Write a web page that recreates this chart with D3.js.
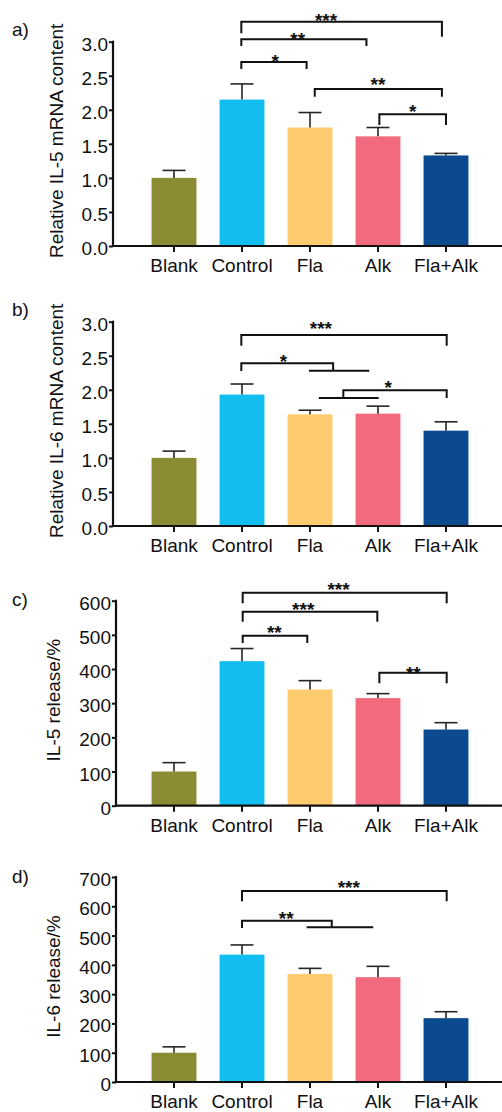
<!DOCTYPE html>
<html>
<head>
<meta charset="utf-8">
<script src="https://cdn.jsdelivr.net/npm/d3@7"></script>
<style>
  html, body { margin: 0; padding: 0; background: #fff; }
  svg { display: block; font-family: "Liberation Sans", Arial, sans-serif; }
</style>
</head>
<body>
<script>
// ---------- data ----------
const categories = ["Blank", "Control", "Fla", "Alk", "Fla+Alk"];

const il5mRNA    = [1.00, 2.15, 1.74, 1.61, 1.33];
const il5mRNAErr = [0.11, 0.23, 0.22, 0.13, 0.03];

const il6mRNA    = [1.00, 1.93, 1.64, 1.65, 1.40];
const il6mRNAErr = [0.10, 0.155, 0.06, 0.11, 0.13];

const il5Release    = [100, 423, 340, 315, 223];
const il5ReleaseErr = [26, 37, 26, 13, 20];

const il6Release    = [100, 435, 369, 358, 218];
const il6ReleaseErr = [20, 33, 19, 37, 22];

const ticksMRNA = [0, 0.5, 1.0, 1.5, 2.0, 2.5, 3.0];
const ticksIL5  = [0, 100, 200, 300, 400, 500, 600];
const ticksIL6  = [0, 100, 200, 300, 400, 500, 600, 700];

// significance brackets: category-index ends, bracket level, leg ends, optional group bars, label
const sigA = [
  {x1: 0.99, x2: 3.94, y: 3.294, y1: 3.123, y2: 3.073, label: "***", lx: 2.235, ly: 3.377},
  {x1: 0.99, x2: 2.83, y: 3.035, y1: 2.937, y2: 2.937, label: "**",  lx: 1.82,  ly: 3.106},
  {x1: 0.99, x2: 1.95, y: 2.702, y1: 2.599, y2: 2.599, label: "*",   lx: 1.49,  ly: 2.780},
  {x1: 2.07, x2: 3.94, y: 2.305, y1: 2.192, y2: 2.192, label: "**",  lx: 3.00,  ly: 2.438},
  {x1: 3.02, x2: 4.00, y: 1.934, y1: 1.777, y2: 1.777, label: "*",   lx: 3.51,  ly: 2.038}
];
const sigB = [
  {x1: 0.99, x2: 4.01, y: 2.805, y1: 2.648, y2: 2.648, label: "***", lx: 2.16, ly: 2.966},
  {x1: 0.99, x2: 2.34, y: 2.389, y1: 2.276, y2: 2.280, g2: [1.985, 2.872], label: "*", lx: 1.61, ly: 2.486},
  {x1: 2.49, x2: 4.01, y: 1.993, y1: 1.880, y2: 1.880, g1: [2.13, 3.01],   label: "*", lx: 3.15, ly: 2.104}
];
const sigC = [
  {x1: 1.01, x2: 4.01, y: 623.3, y1: 592.3, y2: 592.3, label: "***", lx: 2.42, ly: 646.7},
  {x1: 1.01, x2: 2.99, y: 567.7, y1: 538.4, y2: 538.4, label: "***", lx: 1.90, ly: 588.2},
  {x1: 1.01, x2: 1.96, y: 497.5, y1: 476.1, y2: 476.1, label: "**",  lx: 1.475, ly: 520.0},
  {x1: 3.02, x2: 4.01, y: 389.2, y1: 358.2, y2: 358.2, label: "**",  lx: 3.52, ly: 400.6}
];
const sigD = [
  {x1: 1.00, x2: 4.01, y: 652.2, y1: 617.0, y2: 617.0, label: "***", lx: 2.57, ly: 681.2},
  {x1: 1.00, x2: 2.32, y: 550.8, y1: 525.8, y2: 528.2, g2: [1.95, 2.93], label: "**", lx: 1.65, ly: 573.7}
];

// ---------- styles ----------
const barColors = ["#8a8b32", "#12bdef", "#fecb6e", "#f26a7e", "#0b4a8e"];
const FONT = 19;
const STAR_FONT = 19;

const panels = [
  {letter: "a)", title: "Relative IL-5 mRNA content", values: il5mRNA, errs: il5mRNAErr, ticks: ticksMRNA, fmt: d3.format(".1f"),
   sig: sigA, top: 41.7, bottom: 246, axisX: 113, letterY: 35.5, titleX: 63},
  {letter: "b)", title: "Relative IL-6 mRNA content", values: il6mRNA, errs: il6mRNAErr, ticks: ticksMRNA, fmt: d3.format(".1f"),
   sig: sigB, top: 321.7, bottom: 526, axisX: 113, letterY: 315.5, titleX: 63},
  {letter: "c)", title: "IL-5 release/%", values: il5Release, errs: il5ReleaseErr, ticks: ticksIL5, fmt: d3.format("d"),
   sig: sigC, top: 600.7, bottom: 805.7, axisX: 116, letterY: 606, titleX: 60},
  {letter: "d)", title: "IL-6 release/%", values: il6Release, errs: il6ReleaseErr, ticks: ticksIL6, fmt: d3.format("d"),
   sig: sigD, top: 877, bottom: 1082, axisX: 116, letterY: 883, titleX: 60}
];

const W = 502, H = 1112;
const svg = d3.select("body").append("svg").attr("width", W).attr("height", H);

panels.forEach(p => {
  const g = svg.append("g");
  const maxV = p.ticks[p.ticks.length - 1];
  const y = d3.scaleLinear().domain([0, maxV]).range([p.bottom, p.top]);
  const x = d3.scaleBand().domain(categories).range([140, 480]).paddingInner(0.34).paddingOuter(0.17);
  const c0 = x(categories[0]) + x.bandwidth() / 2;
  const xi = d3.scaleLinear().domain([0, 1]).range([c0, c0 + x.step()]);

  // bars
  g.selectAll("rect.bar").data(p.values).join("rect")
    .attr("class", "bar")
    .attr("x", (d, i) => x(categories[i]))
    .attr("width", x.bandwidth())
    .attr("y", d => y(d))
    .attr("height", d => y(0) - y(d))
    .attr("fill", (d, i) => barColors[i]);

  // error bars (upper)
  const eb = g.selectAll("g.err").data(p.values).join("g").attr("class", "err")
    .attr("stroke", "#262626").attr("stroke-width", 1.6);
  eb.append("line")
    .attr("x1", (d, i) => x(categories[i]) + x.bandwidth() / 2)
    .attr("x2", (d, i) => x(categories[i]) + x.bandwidth() / 2)
    .attr("y1", d => y(d))
    .attr("y2", (d, i) => y(d + p.errs[i]));
  eb.append("line")
    .attr("x1", (d, i) => x(categories[i]) + x.bandwidth() / 2 - 11.5)
    .attr("x2", (d, i) => x(categories[i]) + x.bandwidth() / 2 + 11.5)
    .attr("y1", (d, i) => y(d + p.errs[i]))
    .attr("y2", (d, i) => y(d + p.errs[i]));

  // y axis
  const ya = g.append("g").attr("transform", `translate(${p.axisX},0)`)
    .call(d3.axisLeft(y).tickValues(p.ticks).tickFormat(p.fmt).tickSize(4).tickSizeOuter(0).tickPadding(1));
  ya.select(".domain").attr("stroke", "#111").attr("stroke-width", 2.2)
    .attr("d", `M0,${p.top - 1}V${p.bottom + 1}`);
  ya.selectAll(".tick line").attr("stroke", "#111").attr("stroke-width", 2);
  ya.selectAll(".tick text").attr("font-size", FONT).attr("fill", "#111")
    .attr("font-family", "Liberation Sans, Arial, sans-serif").attr("dy", "0.45em");

  // x axis
  const xa = g.append("g").attr("transform", `translate(0,${p.bottom})`)
    .call(d3.axisBottom(x).tickSize(6).tickSizeOuter(0).tickPadding(6.8));
  xa.select(".domain").remove();
  xa.selectAll(".tick line").attr("stroke", "#111").attr("stroke-width", 2);
  xa.selectAll(".tick text").attr("font-size", FONT).attr("fill", "#111")
    .attr("font-family", "Liberation Sans, Arial, sans-serif");
  g.append("line").attr("x1", p.axisX - 1).attr("x2", W).attr("y1", p.bottom).attr("y2", p.bottom)
    .attr("stroke", "#111").attr("stroke-width", 2.2);

  // y title
  g.append("text")
    .attr("transform", `translate(${p.titleX},${(p.top + p.bottom) / 2 - 3}) rotate(-90)`)
    .attr("text-anchor", "middle")
    .attr("font-size", FONT).attr("fill", "#111")
    .text(p.title);

  // panel letter
  g.append("text").attr("x", 12).attr("y", p.letterY)
    .attr("font-size", FONT).attr("fill", "#111").text(p.letter);

  // significance brackets
  const sg = g.append("g").attr("fill", "none").attr("stroke", "#111").attr("stroke-width", 2);
  p.sig.forEach(s => {
    const X1 = xi(s.x1), X2 = xi(s.x2), Y = y(s.y);
    sg.append("path").attr("d", `M${X1},${y(s.y1)}V${Y}H${X2}V${y(s.y2)}`);
    if (s.g1) sg.append("line").attr("x1", xi(s.g1[0])).attr("x2", xi(s.g1[1]))
      .attr("y1", y(s.y1)).attr("y2", y(s.y1));
    if (s.g2) sg.append("line").attr("x1", xi(s.g2[0])).attr("x2", xi(s.g2[1]))
      .attr("y1", y(s.y2)).attr("y2", y(s.y2));
    g.append("text").attr("x", xi(s.lx)).attr("y", y(s.ly) + 0.585 * STAR_FONT)
      .attr("text-anchor", "middle").attr("font-size", STAR_FONT).attr("font-weight", "bold")
      .attr("fill", "#111").text(s.label);
  });
});
</script>
</body>
</html>
